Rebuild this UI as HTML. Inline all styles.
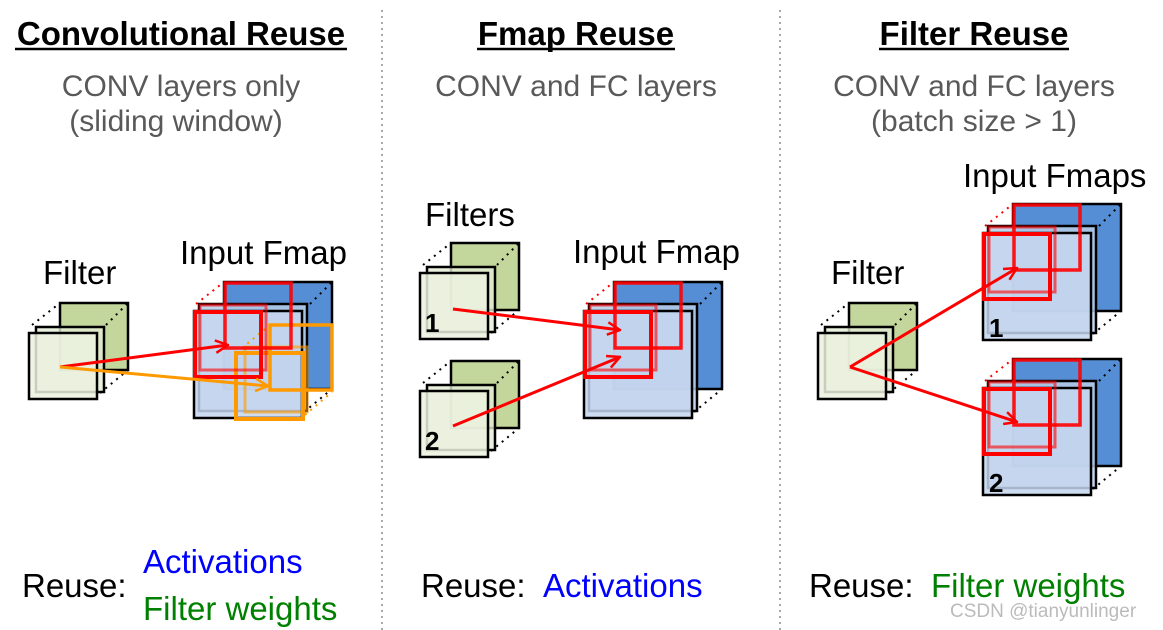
<!DOCTYPE html>
<html><head><meta charset="utf-8"><style>
body{margin:0;background:#fff;}
svg{display:block;font-family:"Liberation Sans",Arial,sans-serif;}
</style></head><body>
<svg width="1163" height="630" viewBox="0 0 1163 630" xmlns="http://www.w3.org/2000/svg">
<defs>
<marker id="ar" viewBox="0 0 12 12" refX="11" refY="6" markerWidth="5" markerHeight="5" orient="auto" markerUnits="strokeWidth"><path d="M1,1 L11,6 L1,11" fill="none" stroke="#f00" stroke-width="2"/></marker>
<marker id="ao" viewBox="0 0 12 12" refX="11" refY="6" markerWidth="5" markerHeight="5" orient="auto" markerUnits="strokeWidth"><path d="M1,1 L11,6 L1,11" fill="none" stroke="#f90" stroke-width="2"/></marker>
<g id="filt">
 <line x1="-28" y1="22" x2="0" y2="0" stroke="#000" stroke-width="2" stroke-dasharray="2,5"/>
 <rect x="0" y="0" width="68" height="67" fill="#c3d69b" stroke="#000" stroke-width="2.5"/>
 <line x1="46" y1="22" x2="68" y2="0" stroke="#000" stroke-width="2" stroke-dasharray="2,5"/>
 <line x1="40" y1="90" x2="68" y2="67" stroke="#000" stroke-width="2" stroke-dasharray="2,5"/>
 <rect x="-24" y="24" width="68" height="65" fill="#e4ecd6" fill-opacity="0.8" stroke="#000" stroke-width="2.5"/>
 <rect x="-31" y="30" width="68" height="66" fill="#ebf1de" fill-opacity="0.85" stroke="#000" stroke-width="2.5"/>
</g>
<g id="fmap">
 <line x1="-28" y1="22" x2="0" y2="0" stroke="#f00" stroke-width="2" stroke-dasharray="2,5"/>
 <rect x="0" y="0" width="108" height="107" fill="#558ed5" stroke="#000" stroke-width="2.5"/>
 <line x1="86" y1="22" x2="108" y2="0" stroke="#000" stroke-width="2" stroke-dasharray="2,5"/>
 <line x1="80" y1="130" x2="108" y2="107" stroke="#000" stroke-width="2" stroke-dasharray="2,5"/>
 <rect x="-25" y="22" width="108" height="107" fill="#b9cde8" fill-opacity="0.85" stroke="#000" stroke-width="2.5"/>
 <rect x="-30" y="29" width="108" height="107" fill="#c5d6ee" fill-opacity="0.85" stroke="#000" stroke-width="2.5"/>
</g>
<g id="reds">
 <rect x="0" y="0" width="66" height="65" fill="none" stroke="#f00" stroke-width="3.5" stroke-opacity="0.9"/>
 <rect x="-25" y="22" width="66" height="65" fill="none" stroke="#f00" stroke-width="3" stroke-opacity="0.6"/>
 <rect x="-30" y="29" width="66" height="65" fill="none" stroke="#f00" stroke-width="4"/>
</g>
</defs>

<line x1="382" y1="10" x2="382" y2="630" stroke="#aaa" stroke-width="2" stroke-dasharray="2,4"/>
<line x1="780" y1="10" x2="780" y2="630" stroke="#aaa" stroke-width="2" stroke-dasharray="2,4"/>

<g font-weight="bold" font-size="33" text-anchor="middle" fill="#000">
<text x="181" y="45">Convolutional Reuse</text>
<text x="576" y="45">Fmap Reuse</text>
<text x="974" y="45">Filter Reuse</text>
</g>
<line x1="15" y1="49" x2="347" y2="49" stroke="#000" stroke-width="2.5"/>
<line x1="477" y1="49" x2="675" y2="49" stroke="#000" stroke-width="2.5"/>
<line x1="879" y1="49" x2="1069" y2="49" stroke="#000" stroke-width="2.5"/>
<g font-size="30" text-anchor="middle" fill="#595959">
<text x="181" y="96">CONV layers only</text>
<text x="176" y="131">(sliding window)</text>
<text x="576" y="96">CONV and FC layers</text>
<text x="974" y="96">CONV and FC layers</text>
<text x="974" y="131">(batch size &gt; 1)</text>
</g>
<g font-size="33" fill="#000">
<text x="43" y="284">Filter</text>
<text x="180" y="264">Input Fmap</text>
<text x="425" y="226">Filters</text>
<text x="573" y="263">Input Fmap</text>
<text x="831" y="284">Filter</text>
<text x="963" y="187">Input Fmaps</text>
<text x="22" y="597">Reuse:</text>
<text x="421" y="597">Reuse:</text>
<text x="809" y="597">Reuse:</text>
<text x="143" y="573" fill="#0000ff">Activations</text>
<text x="143" y="620" fill="#008000">Filter weights</text>
<text x="543" y="597" fill="#0000ff">Activations</text>
<text x="931" y="597" fill="#008000">Filter weights</text>
</g>

<use href="#filt" x="60" y="303"/>
<use href="#fmap" x="224" y="282"/>
<g>
 <line x1="242" y1="348" x2="270" y2="325" stroke="#f90" stroke-width="2" stroke-dasharray="2,5"/>
 <rect x="270" y="325" width="62" height="65" fill="none" stroke="#f90" stroke-width="3.5"/>
 <rect x="245" y="347" width="62" height="65" fill="none" stroke="#f90" stroke-width="3" stroke-opacity="0.6"/>
 <rect x="236" y="353" width="67" height="66" fill="none" stroke="#f90" stroke-width="4"/>
 <line x1="305" y1="415" x2="332" y2="392" stroke="#f90" stroke-width="2" stroke-dasharray="2,5"/>
</g>
<use href="#reds" x="225" y="283"/>
<line x1="60" y1="367" x2="228" y2="345" stroke="#f00" stroke-width="3" marker-end="url(#ar)"/>
<line x1="60" y1="367" x2="268" y2="386" stroke="#f90" stroke-width="3" marker-end="url(#ao)"/>

<use href="#filt" x="451" y="243"/>
<use href="#filt" x="451" y="361"/>
<g font-size="26" font-weight="bold"><text x="425" y="332">1</text><text x="425" y="450">2</text></g>
<use href="#fmap" x="614" y="282"/>
<use href="#reds" x="615" y="283"/>
<line x1="453" y1="309" x2="620" y2="330" stroke="#f00" stroke-width="3" marker-end="url(#ar)"/>
<line x1="453" y1="426" x2="620" y2="357" stroke="#f00" stroke-width="3" marker-end="url(#ar)"/>

<use href="#filt" x="849" y="303"/>
<use href="#fmap" x="1013" y="204"/>
<use href="#fmap" x="1013" y="359"/>
<use href="#reds" x="1014" y="205"/>
<use href="#reds" x="1014" y="360"/>
<g font-size="26" font-weight="bold"><text x="989" y="337">1</text><text x="989" y="492">2</text></g>
<line x1="850" y1="367" x2="1017" y2="268" stroke="#f00" stroke-width="3" marker-end="url(#ar)"/>
<line x1="850" y1="367" x2="1017" y2="422" stroke="#f00" stroke-width="3" marker-end="url(#ar)"/>

<text x="950" y="617" font-size="19" fill="#bbb">CSDN @tianyunlinger</text>
</svg>
</body></html>
